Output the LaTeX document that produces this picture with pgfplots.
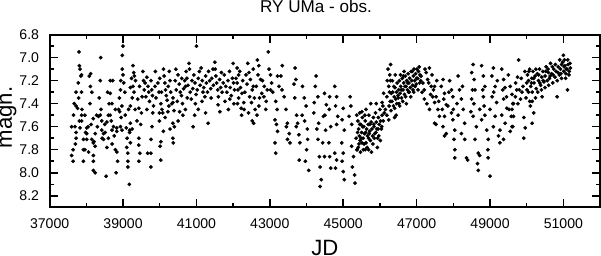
\documentclass[border=0pt]{standalone}
\usepackage{fontspec}
\setmainfont{Liberation Sans}
\usepackage{pgfplots}
\pgfplotsset{compat=1.18}
\begin{document}
\begin{tikzpicture}
\begin{axis}[
  scale only axis, width=545bp, height=171bp,
  xmin=37000, xmax=52000, ymin=6.8, ymax=8.3, y dir=reverse,
  xtick={37000,39000,41000,43000,45000,47000,49000,51000},
  minor xtick={38000,40000,42000,44000,46000,48000,50000},
  ytick={6.8,7.0,7.2,7.4,7.6,7.8,8.0,8.2},
  minor ytick={6.9,7.1,7.3,7.5,7.7,7.9,8.1},
  tick align=inside, major tick length=8bp, minor tick length=4bp,
  scaled x ticks=false,
  xticklabel style={/pgf/number format/1000 sep={}, yshift=-8bp},
  yticklabel style={/pgf/number format/fixed, /pgf/number format/fixed zerofill, /pgf/number format/precision=1, xshift=-7bp},
  /pgf/number format/assume math mode=true,
  tick label style={font=\fontsize{14}{14}\selectfont},
  axis line style={black, line width=1.8bp},
  major tick style={black, line width=1.5bp},
  minor tick style={black, line width=1.5bp},
  title={RY UMa - obs.},
  title style={font=\fontsize{17}{17}\selectfont, at={(axis description cs:0.484,1.129)}, anchor=center, inner sep=0pt},
  xlabel={JD},
  xlabel style={font=\fontsize{22}{22}\selectfont, at={(axis description cs:0.5,-0.234)}, anchor=center, inner sep=0pt},
  ylabel={magn.},
  ylabel style={font=\fontsize{22}{22}\selectfont, at={(axis description cs:-0.0752,0.52)}, anchor=center, inner sep=0pt},
]
\addplot[only marks, mark=*, mark size=1.7pt, black] table {
x y
37800 6.95
38390 7.00
38980 6.98
39000 6.90
37810 7.07
37830 7.10
37850 7.16
37870 7.15
38120 7.14
38080 7.16
38380 7.20
38650 7.20
38720 7.20
38940 7.20
39000 7.15
38980 7.10
39020 7.22
39270 7.07
39290 7.13
39310 7.16
39340 7.20
39270 7.25
37720 7.30
37870 7.30
38150 7.30
38580 7.30
38650 7.31
38930 7.28
39200 7.26
39250 7.35
39400 7.36
39520 7.34
37670 7.40
37720 7.42
37760 7.44
38700 7.40
38790 7.45
38970 7.42
39200 7.42
39430 7.44
37870 7.50
37960 7.50
38280 7.50
38330 7.51
38380 7.50
38600 7.50
38650 7.50
38880 7.45
38910 7.47
37810 7.55
37870 7.55
38190 7.53
38420 7.55
38560 7.56
39200 7.57
39480 7.58
37600 7.60
37690 7.60
37830 7.61
38010 7.61
38050 7.60
38420 7.63
38510 7.65
38740 7.60
38830 7.61
38930 7.60
38970 7.63
39090 7.61
39180 7.63
37720 7.65
38010 7.66
38240 7.66
38470 7.66
38700 7.63
38830 7.64
39180 7.65
37720 7.70
37920 7.71
38010 7.71
38150 7.71
38210 7.73
38470 7.71
38600 7.70
39110 7.70
39430 7.70
38190 7.74
38240 7.77
39200 7.74
39430 7.76
37640 7.80
37920 7.80
37960 7.80
38790 7.80
38830 7.82
37600 7.85
38190 7.85
39130 7.83
39460 7.83
37640 7.90
37920 7.90
38190 7.90
39130 7.90
39430 7.90
39130 7.95
38190 7.98
38240 8.00
38540 8.03
38810 8.00
39170 8.10
37780 7.22
37790 7.35
37880 7.45
38100 7.40
38110 7.25
38130 7.58
38350 7.35
38400 7.45
38430 7.70
38620 7.40
38680 7.55
38700 7.75
38900 7.35
38950 7.52
39050 7.30
39060 7.50
39150 7.45
39230 7.18
39300 7.30
39330 7.45
39380 7.55
39450 7.25
39500 7.48
37650 7.50
37700 7.75
37980 7.65
38060 7.82
38300 7.60
38500 7.58
38560 7.78
38760 7.68
38850 7.90
39100 7.78
39250 7.62
39540 7.12
39560 7.20
39580 7.28
39600 7.22
39620 7.34
39650 7.17
39680 7.25
39700 7.30
39720 7.38
39760 7.20
39780 7.28
39800 7.33
39830 7.42
39870 7.25
39900 7.35
39950 7.22
39980 7.30
40000 7.18
40030 7.40
40060 7.45
40100 7.10
40120 7.16
40140 7.22
40160 7.28
40180 7.33
40200 7.37
40230 7.25
40260 7.12
40280 7.20
40300 7.30
40330 7.40
40360 7.35
40390 7.46
40420 7.20
40450 7.28
40480 7.38
40500 7.15
40530 7.23
40560 7.30
40590 7.33
40620 7.40
40650 7.27
40680 7.20
40700 7.25
40720 7.12
40740 7.18
40770 7.24
40800 7.05
40810 7.10
40830 7.30
40860 7.36
40880 7.20
40900 7.27
40930 7.15
40960 7.22
40990 7.32
41000 6.90
41020 7.28
41050 7.18
41080 7.12
41100 7.24
41130 7.09
41160 7.20
41180 7.30
41200 7.26
41230 7.34
41250 7.16
41270 7.22
41300 7.30
41330 7.12
41360 7.20
41390 7.27
41420 7.18
41460 7.24
41500 7.04
41510 7.10
41530 7.16
41550 7.22
41580 7.28
41600 7.34
41630 7.19
41660 7.26
41700 7.30
41730 7.22
41760 7.15
41800 7.25
41830 7.30
41860 7.20
41900 7.12
41920 7.26
41950 7.33
41980 7.18
42000 7.05
42010 7.22
42040 7.28
39810 7.48
39990 7.48
40080 7.48
40220 7.47
40360 7.39
40540 7.47
40630 7.50
40950 7.50
41320 7.57
41590 7.41
41640 7.47
41870 7.45
41910 7.36
39990 7.55
40360 7.57
40400 7.60
40910 7.60
39790 7.60
40100 7.64
40360 7.70
40370 7.74
40030 7.73
40010 7.77
39760 7.71
39670 7.83
39760 7.83
40030 7.89
39760 7.95
39650 7.45
39880 7.12
40050 7.30
40250 7.42
40440 7.10
40600 7.18
40750 7.35
40970 7.40
41150 7.38
41400 7.35
41450 7.10
41680 7.13
41780 7.38
42020 7.40
40150 7.52
40700 7.45
41050 7.45
41250 7.48
40500 7.55
40280 7.62
42110 7.09
42150 7.15
42110 7.22
42200 7.26
42240 7.31
42150 7.35
42290 7.39
42220 7.44
42430 7.13
42470 7.19
42380 7.23
42520 7.28
42450 7.34
42500 7.39
42520 7.55
42560 7.57
42660 7.02
42700 7.07
42680 7.15
42750 7.19
42630 7.25
42780 7.31
42840 7.34
42700 7.42
42890 7.45
42980 7.10
43020 7.15
43050 7.22
42930 7.28
42960 6.95
43160 7.38
43210 7.16
43250 7.25
43140 7.54
43180 7.58
43210 7.64
43140 7.74
43160 7.83
43340 7.07
43300 7.16
43390 7.34
43440 7.45
43480 7.57
43530 7.66
43480 7.71
43550 7.74
43690 7.09
43710 7.19
43660 7.23
43730 7.50
43760 7.57
43790 7.67
43820 7.74
43890 7.25
43940 7.35
43990 7.42
43880 7.50
44030 7.71
44000 7.80
43800 7.89
44060 7.98
43970 7.90
44260 7.16
44240 7.25
44310 7.34
44210 7.39
44330 7.57
44310 7.71
44350 7.86
44370 7.95
44400 8.06
44370 8.12
44490 7.31
44540 7.41
44460 7.51
44520 7.63
44440 7.74
44490 7.86
42080 7.18
42130 7.28
42180 7.12
42260 7.20
42320 7.30
42350 7.15
42400 7.05
42550 7.25
42580 7.35
42600 7.45
42800 7.20
42850 7.25
42120 7.40
42300 7.45
42420 7.48
42650 7.50
42720 7.35
42900 7.38
43080 7.30
43200 7.45
43330 7.28
43450 7.60
43680 7.35
43720 7.60
43950 7.55
44020 7.62
44200 7.48
44280 7.62
44500 7.50
43020 7.28
42550 7.10
42230 7.50
44630 7.34
44620 7.45
44660 7.60
44610 7.74
44630 7.86
44660 7.96
44770 7.25
44820 7.34
44790 7.42
44850 7.51
44820 7.58
44770 7.83
44820 7.89
44790 7.96
45000 7.44
44970 7.54
45030 7.63
44960 7.74
45000 7.83
44970 7.90
45000 7.99
45030 8.06
45190 7.34
45210 7.42
45160 7.51
45230 7.58
45230 7.77
45280 7.86
45250 7.95
45310 8.02
45320 8.09
45370 7.50
45400 7.55
45420 7.62
45440 7.68
45460 7.72
45480 7.58
45500 7.65
45520 7.52
45540 7.70
45560 7.60
45580 7.66
45600 7.55
45620 7.74
45640 7.62
45660 7.68
45680 7.58
45700 7.50
45720 7.64
45740 7.72
45760 7.56
45780 7.62
45800 7.68
45820 7.52
45840 7.60
45860 7.66
45880 7.48
45900 7.56
45920 7.62
45940 7.70
45960 7.52
45980 7.58
46000 7.45
46020 7.55
46040 7.62
46060 7.50
46080 7.42
45350 7.70
45380 7.80
45410 7.78
45550 7.80
45690 7.80
45450 7.48
45620 7.45
45750 7.40
45510 7.47
45900 7.40
45370 7.80
45510 7.74
45600 7.80
45390 7.65
45430 7.75
45470 7.82
45490 7.70
45530 7.60
45570 7.75
45610 7.65
45650 7.78
45690 7.70
45730 7.58
45770 7.82
45810 7.75
45850 7.70
45890 7.65
45930 7.78
45970 7.68
46010 7.72
46050 7.60
46090 7.55
46120 7.48
45450 7.58
45590 7.50
45710 7.66
45830 7.58
45950 7.62
46060 7.39
46100 7.31
46150 7.45
46190 7.50
46240 7.54
46290 7.06
46270 7.15
46290 7.20
46240 7.25
46310 7.31
46190 7.34
46200 7.20
46220 7.10
46260 7.30
46280 7.38
46330 7.38
46350 7.30
46370 7.42
46390 7.34
46410 7.26
46430 7.36
46450 7.30
46470 7.22
46490 7.33
46510 7.28
46530 7.20
46550 7.31
46570 7.25
46590 7.35
46610 7.18
46630 7.28
46650 7.22
46670 7.32
46690 7.16
46710 7.25
46730 7.20
46750 7.28
46770 7.14
46790 7.22
46810 7.18
46830 7.26
46850 7.12
46870 7.20
46890 7.24
46910 7.16
46930 7.10
46950 7.20
46970 7.14
46990 7.23
47010 7.10
47030 7.18
47050 7.12
47070 7.08
47090 7.15
47110 7.20
46400 7.44
46440 7.50
46400 7.52
46520 7.40
46700 7.34
46250 7.42
46300 7.46
46560 7.15
46660 7.12
46780 7.30
46900 7.28
46340 7.20
46380 7.25
46420 7.15
46460 7.40
46500 7.35
46540 7.42
46580 7.28
46620 7.38
46640 7.16
46680 7.25
46720 7.40
46760 7.22
46800 7.30
46840 7.34
46880 7.12
46920 7.30
46960 7.25
47000 7.18
47040 7.28
47080 7.22
47120 7.16
47170 7.22
47210 7.28
47260 7.13
47300 7.19
47350 7.09
47400 7.25
47440 7.34
47490 7.39
47210 7.36
47350 7.45
47490 7.25
47530 7.34
47580 7.45
47620 7.51
47530 7.58
47490 7.57
47670 7.25
47720 7.19
47760 7.31
47810 7.41
47760 7.51
47720 7.60
47810 7.66
47760 7.68
47900 7.20
47950 7.28
47990 7.34
47850 7.42
47950 7.48
47990 7.54
48040 7.63
48020 7.71
48040 7.80
48040 7.87
48130 7.16
48170 7.28
48220 7.36
48270 7.45
48130 7.50
48310 7.57
48220 7.66
48310 7.71
48360 7.87
48540 7.06
48500 7.13
48570 7.19
48590 7.28
48500 7.36
48480 7.47
48540 7.51
48630 7.60
48590 7.71
48680 7.83
48660 7.92
48680 7.98
48770 7.07
48820 7.16
48860 7.25
48820 7.34
48720 7.45
48860 7.50
48770 7.54
48910 7.63
48950 7.71
48940 7.80
48950 7.87
49090 7.09
49050 7.16
49140 7.25
49060 7.34
49180 7.39
49000 7.45
49140 7.51
49090 7.60
49230 7.68
49270 7.74
49320 7.10
49370 7.19
49410 7.26
49370 7.36
49460 7.44
49320 7.50
49410 7.57
49270 7.63
49370 7.71
49550 7.25
49600 7.32
49520 7.45
49580 7.51
49620 7.60
49550 7.64
49000 8.03
48390 7.89
48720 7.85
47150 7.30
47230 7.10
47280 7.40
47330 7.22
47380 7.32
47420 7.15
47460 7.28
47550 7.20
47600 7.38
47700 7.45
47740 7.36
47880 7.30
48000 7.45
48100 7.40
48250 7.25
48520 7.28
48560 7.40
48800 7.28
48840 7.42
49100 7.30
49200 7.20
49350 7.28
49450 7.34
49500 7.15
49620 7.40
49780 7.02
49600 7.45
49640 7.51
49600 7.60
49920 7.52
49960 7.61
49920 7.70
50150 7.57
50190 7.48
50150 7.38
50100 7.42
50240 7.35
50420 7.34
50830 7.34
51110 7.28
49730 7.28
49690 7.34
49640 7.40
49830 7.36
49700 7.22
49750 7.17
49800 7.28
49850 7.18
49900 7.25
49950 7.12
50000 7.22
50020 7.15
50050 7.20
50080 7.10
50110 7.25
50140 7.18
50170 7.12
50200 7.22
50230 7.16
50260 7.27
50290 7.14
50320 7.20
50350 7.10
50380 7.24
50410 7.17
50440 7.12
50470 7.21
50500 7.16
50530 7.08
50560 7.20
50590 7.13
50620 7.18
50650 7.05
50680 7.14
50710 7.22
50740 7.10
50770 7.17
50800 7.12
50830 7.20
50860 7.08
50890 7.15
50920 7.10
50950 7.18
50980 7.04
51010 7.12
51040 7.07
51070 7.14
51100 7.10
51130 7.06
51160 7.12
51190 7.09
50900 7.02
50950 7.06
51060 7.18
50700 7.08
50600 7.24
50500 7.26
50300 7.30
50400 7.28
50050 7.30
50080 7.38
50150 7.30
51000 6.98
51030 7.02
50010 7.28
50060 7.12
50130 7.22
50190 7.18
50250 7.10
50330 7.15
50360 7.22
50450 7.20
50520 7.12
50580 7.10
50640 7.16
50720 7.15
50780 7.06
50850 7.13
50930 7.14
51020 7.08
51080 7.10
51150 7.15
51120 7.02
51180 7.05
49980 7.35
49870 7.30
49760 7.40
};
\end{axis}
\end{tikzpicture}
\end{document}
